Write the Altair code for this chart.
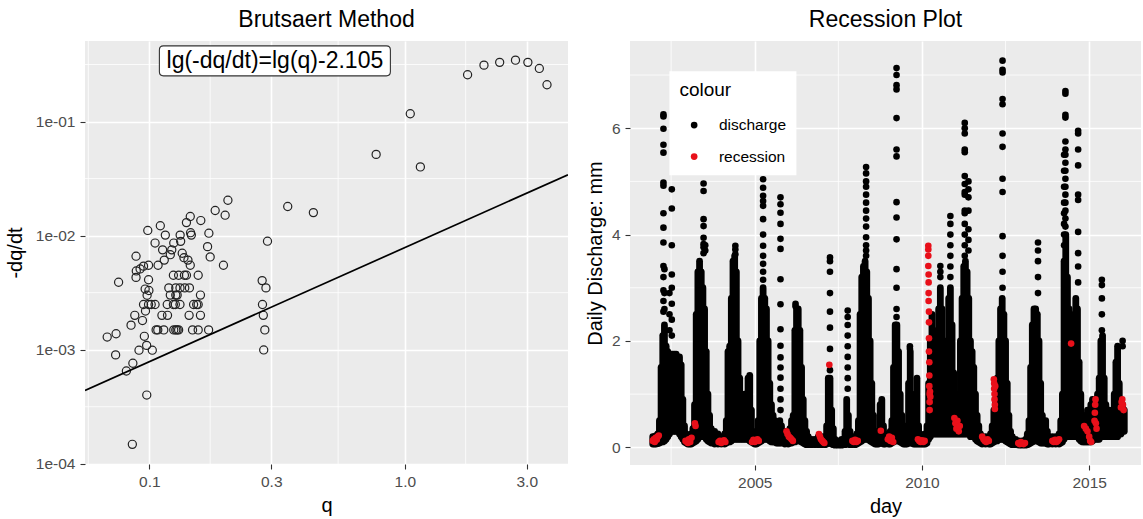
import altair as alt
import pandas as pd

FONT = "Liberation Sans"

# ---------------- Left panel: Brutsaert method ----------------
brut_q = [1.76, 2.04, 2.35, 2.71, 3.03, 3.36, 3.60, 1.05, 0.772, 1.15,
          0.348, 0.4385, 0.290,
          0.203, 0.181, 0.198, 0.171, 0.169, 0.173, 0.195,
          0.159, 0.1446, 0.1397, 0.145, 0.146, 0.132, 0.1326, 0.1246, 0.1155, 0.1104,
          0.0986, 0.1053, 0.1127, 0.1224, 0.1208, 0.1345, 0.1366, 0.1144, 0.1082, 0.1416,
          0.1446, 0.0993, 0.0949, 0.0920, 0.0889, 0.0887, 0.0887, 0.0758, 0.0993, 0.0963,
          0.0996, 0.098,
          0.1242, 0.1302, 0.1372, 0.1397, 0.1553,
          0.1192, 0.1269, 0.1318, 0.1376, 0.1435,
          0.1208, 0.1269, 0.1285, 0.1585,
          0.0949, 0.0993, 0.1017, 0.1053, 0.1175, 0.1242, 0.1264, 0.1318, 0.1490, 0.1532, 0.1553,
          0.0877, 0.1120, 0.1178, 0.1431, 0.1585,
          0.1063, 0.1079, 0.1139, 0.1246, 0.1269, 0.1285, 0.1302, 0.1476, 0.1553, 0.1706,
          0.0966, 0.0848, 0.0940, 0.0956, 0.0911, 0.0976, 0.1027, 0.0684, 0.0741, 0.0738,
          0.0862, 0.0813, 0.0977, 0.0858,
          0.2764, 0.286, 0.2772, 0.2793, 0.2831, 0.2803]
brut_dqdt = [0.257, 0.312, 0.330, 0.345, 0.330, 0.292, 0.210, 0.117, 0.0515, 0.040,
             0.0180, 0.0159, 0.00893,
             0.0204, 0.0166, 0.0151, 0.0105, 0.0080, 0.0065, 0.0055,
             0.01355, 0.0147, 0.0130, 0.0106, 0.0101, 0.0101, 0.0089, 0.0086, 0.0101, 0.0122,
             0.0111, 0.0086, 0.0075, 0.0075, 0.0068, 0.0070, 0.0064, 0.0061, 0.0055, 0.0061,
             0.0055, 0.0055, 0.0054, 0.0051, 0.0049, 0.0043, 0.0066, 0.0039, 0.0041, 0.0034,
             0.0033, 0.0030,
             0.00449, 0.00449, 0.00449, 0.00449, 0.00449,
             0.00348, 0.00348, 0.00348, 0.00348, 0.00348,
             0.00301, 0.00301, 0.00301, 0.00301,
             0.00249, 0.00249, 0.00249, 0.00249, 0.00249, 0.00249, 0.00249, 0.00249, 0.00249, 0.00249, 0.00249,
             0.0020, 0.0020, 0.0020, 0.0020, 0.0020,
             0.00149, 0.00149, 0.00149, 0.00149, 0.00149, 0.00149, 0.00149, 0.00149, 0.00149, 0.00149,
             0.00218, 0.00164, 0.0018, 0.00131, 0.00099, 0.00109, 0.00099, 0.00129, 0.00138, 0.0009,
             0.00076, 0.00065, 0.0004, 0.000148,
             0.00403, 0.00348, 0.00249, 0.0020, 0.00149, 0.000995]

fit_intercept = -2.105           # lg(-dq/dt) = lg(q) - 2.105
fit_q = [0.056, 4.35]
label_q = [0.31]
label_r = [0.34]
label_text = "lg(-dq/dt)=lg(q)-2.105"

q_domain = [0.0560, 4.35]
r_domain = [0.0000995, 0.508]
q_ticks = [0.1, 0.3, 1.0, 3.0]
q_minor = [0.0577, 0.173, 0.548, 1.73]
r_ticks = [0.0001, 0.001, 0.01, 0.1]
r_minor = [0.000316, 0.00316, 0.0316, 0.316]

# ---------------- Right panel: recession plot ----------------
# dense daily-point mass: (decimal year, lowest value, top of the solid mass)
mass = [
    (2001.95, .06, .20), (2002.00, .06, .20), (2002.05, .06, .22), (2002.10, .07, .25),
    (2002.15, .08, .50), (2002.20, .10, 1.5), (2002.25, .10, 2.1), (2002.30, .12, 2.3),
    (2002.35, .15, 1.9), (2002.40, .20, 1.8), (2002.45, .25, 1.7), (2002.50, .30, 1.75),
    (2002.55, .30, 1.75), (2002.60, .30, 1.75), (2002.65, .30, 1.75), (2002.70, .30, 1.70),
    (2002.75, .25, 1.70), (2002.80, .20, 1.55), (2002.85, .15, .90), (2002.90, .10, .40),
    (2002.95, .08, .25), (2003.00, .06, .20), (2003.05, .06, .20), (2003.10, .06, .25),
    (2003.15, .08, .35), (2003.20, .10, .80), (2003.25, .12, 2.5), (2003.30, .15, 3.3),
    (2003.35, .20, 3.5), (2003.40, .20, 3.3), (2003.45, .20, 3.0), (2003.50, .20, 2.6),
    (2003.55, .15, 1.8), (2003.60, .12, 1.0), (2003.65, .10, .60), (2003.70, .08, .35),
    (2003.80, .06, .30), (2003.90, .06, .25), (2004.00, .06, .20), (2004.10, .06, .25),
    (2004.15, .08, .50), (2004.20, .10, 1.8), (2004.25, .10, 1.9), (2004.30, .12, 2.8),
    (2004.35, .15, 3.5), (2004.40, .15, 3.6), (2004.45, .15, 3.3), (2004.50, .15, 2.0),
    (2004.55, .15, 1.3), (2004.60, .15, .90), (2004.65, .15, .90), (2004.70, .15, 1.0),
    (2004.75, .15, .80), (2004.80, .15, 1.3), (2004.85, .12, 1.35), (2004.90, .10, .70),
    (2004.95, .08, .30), (2005.00, .06, .25), (2005.05, .06, .25), (2005.10, .08, .50),
    (2005.15, .10, 2.0), (2005.20, .12, 2.8), (2005.25, .15, 3.0), (2005.30, .15, 2.8),
    (2005.35, .15, 2.6), (2005.40, .15, 2.0), (2005.45, .12, 1.2), (2005.50, .10, .80),
    (2005.55, .10, .60), (2005.60, .10, .50), (2005.65, .08, .45), (2005.70, .08, .40),
    (2005.75, .08, .50), (2005.80, .08, .40), (2005.90, .06, .30), (2006.00, .06, .30),
    (2006.05, .08, .35), (2006.10, .08, .50), (2006.15, .10, .60), (2006.20, .10, 2.2),
    (2006.25, .12, 2.6), (2006.30, .12, 2.6), (2006.35, .12, 2.2), (2006.40, .10, 1.5),
    (2006.45, .08, .90), (2006.50, .06, .50), (2006.55, .05, .30), (2006.60, .05, .20),
    (2006.70, .05, .15), (2006.80, .05, .15), (2006.90, .05, .20), (2007.00, .05, .20),
    (2007.10, .05, .20), (2007.15, .06, .40), (2007.20, .08, 1.3), (2007.25, .08, 1.3),
    (2007.30, .06, .70), (2007.35, .05, .35), (2007.40, .04, .15), (2007.50, .04, .12),
    (2007.60, .04, .15), (2007.70, .05, .30), (2007.75, .06, .90), (2007.80, .06, .60),
    (2007.85, .05, .30), (2007.90, .05, .20), (2008.00, .05, .20), (2008.05, .06, .25),
    (2008.10, .08, .50), (2008.15, .10, 2.5), (2008.20, .12, 3.2), (2008.25, .15, 3.4),
    (2008.30, .15, 3.5), (2008.35, .15, 3.3), (2008.40, .15, 2.8), (2008.45, .12, 2.0),
    (2008.50, .10, 1.2), (2008.55, .08, .60), (2008.60, .06, .30), (2008.65, .06, .20),
    (2008.70, .06, .30), (2008.75, .08, .80), (2008.80, .08, .90), (2008.85, .06, .40),
    (2008.90, .06, .25), (2009.00, .06, .25), (2009.05, .06, .30), (2009.10, .08, .50),
    (2009.15, .10, 1.5), (2009.20, .12, 2.3), (2009.25, .12, 2.3), (2009.30, .12, 1.8),
    (2009.35, .10, 1.0), (2009.40, .08, .60), (2009.45, .06, .30), (2009.50, .06, .25),
    (2009.55, .06, .40), (2009.60, .08, 1.2), (2009.65, .08, 1.8), (2009.70, .08, 1.0),
    (2009.75, .06, .50), (2009.80, .06, .60), (2009.85, .06, 1.3), (2009.90, .06, .40),
    (2009.95, .06, .25), (2010.00, .06, .20), (2010.05, .06, .20), (2010.10, .06, .25),
    (2010.15, .08, .40), (2010.20, .15, 1.2), (2010.25, .20, 2.0), (2010.30, .25, 2.5),
    (2010.35, .25, 2.2), (2010.40, .25, 1.9), (2010.45, .25, 2.0), (2010.50, .25, 2.6),
    (2010.55, .25, 3.0), (2010.60, .25, 2.6), (2010.65, .25, 1.8), (2010.70, .25, 1.5),
    (2010.75, .25, 2.0), (2010.80, .25, 2.8), (2010.85, .25, 3.0), (2010.90, .25, 2.3),
    (2010.95, .25, 1.4), (2011.00, .25, .70), (2011.05, .25, .80), (2011.10, .25, 1.0),
    (2011.15, .25, 2.0), (2011.20, .25, 2.8), (2011.25, .25, 3.4), (2011.30, .25, 3.5),
    (2011.35, .25, 3.3), (2011.40, .25, 2.8), (2011.45, .20, 2.0), (2011.50, .20, 1.8),
    (2011.55, .20, 1.5), (2011.60, .15, 1.0), (2011.65, .12, .60), (2011.70, .10, .40),
    (2011.75, .08, .25), (2011.80, .06, .20), (2011.90, .06, .20), (2012.00, .06, .20),
    (2012.05, .06, .25), (2012.10, .08, .40), (2012.15, .10, .70), (2012.20, .12, .90),
    (2012.25, .12, 1.3), (2012.30, .15, 2.0), (2012.35, .15, 2.6), (2012.40, .15, 2.8),
    (2012.45, .15, 2.5), (2012.50, .12, 2.0), (2012.55, .10, 1.2), (2012.60, .08, .60),
    (2012.65, .06, .30), (2012.70, .05, .20), (2012.80, .05, .15), (2012.90, .04, .12),
    (2013.00, .04, .12), (2013.10, .04, .15), (2013.15, .05, .25), (2013.20, .06, .50),
    (2013.25, .08, 1.5), (2013.30, .10, 2.3), (2013.35, .12, 2.6), (2013.40, .12, 2.6),
    (2013.45, .12, 2.5), (2013.50, .10, 2.0), (2013.55, .08, 1.2), (2013.60, .08, .60),
    (2013.65, .08, .40), (2013.70, .08, .50), (2013.75, .06, .30), (2013.80, .06, .20),
    (2013.90, .06, .20), (2014.00, .06, .20), (2014.10, .06, .25), (2014.15, .08, .50),
    (2014.20, .10, 1.0), (2014.25, .15, 3.5), (2014.30, .20, 4.0), (2014.35, .20, 3.2),
    (2014.40, .20, 2.6), (2014.45, .20, 2.0), (2014.50, .20, 1.8), (2014.55, .20, 2.5),
    (2014.60, .20, 2.8), (2014.65, .20, 2.6), (2014.70, .15, 1.6), (2014.75, .12, 1.0),
    (2014.80, .10, .60), (2014.85, .10, .50), (2014.90, .10, .60), (2014.95, .10, .70),
    (2015.00, .10, .70), (2015.05, .10, .80), (2015.10, .12, .90), (2015.15, .15, .80),
    (2015.20, .15, .90), (2015.25, .15, 1.0), (2015.30, .15, 1.3), (2015.35, .20, 2.0),
    (2015.40, .20, 2.1), (2015.45, .20, 1.3), (2015.50, .20, .80), (2015.55, .20, .60),
    (2015.60, .20, .70), (2015.65, .20, .60), (2015.70, .20, .70), (2015.75, .20, 1.0),
    (2015.80, .20, 1.6), (2015.85, .20, 1.9), (2015.90, .25, 1.2), (2015.95, .25, .90),
    (2016.00, .30, .80), (2016.05, .30, .70),
]

# individual high-flow days standing above the solid mass: (decimal year, values)
discharge_peaks = [
    (2002.27, [6.26, 6.22, 5.99, 5.69, 5.54, 4.98, 4.92, 4.40, 4.13, 3.85, 3.41, 3.2, 2.95, 2.75, 2.55]),
    (2002.30, [3.35, 2.9, 2.6]),
    (2002.45, [2.9, 2.5, 2.2]),
    (2002.52, [4.85, 4.49, 3.80, 3.25, 3.0, 2.7, 2.4, 2.1]),
    (2003.47, [4.96, 4.82, 4.29, 4.16, 3.94, 3.82, 3.76, 3.65]),
    (2003.52, [3.8, 3.7]),
    (2004.42, [3.79, 3.72, 3.63]),
    (2005.25, [5.04, 4.88, 4.73, 4.63, 4.54, 4.29, 4.0, 3.79, 3.6, 3.45, 3.3, 3.15]),
    (2005.77, [4.70, 4.57, 4.41, 4.2, 3.92, 3.73, 3.16, 2.69, 2.22, 1.91, 1.69, 1.5, 1.31, 1.1, 0.9, 0.7]),
    (2006.22, [2.7, 2.65]),
    (2007.25, [3.57, 3.5, 3.3, 2.9, 2.55, 2.25, 1.85, 1.45]),
    (2007.78, [2.57, 2.45, 2.3, 2.1, 1.9, 1.7, 1.5, 1.3, 1.1]),
    (2008.33, [5.27, 5.15, 5.0, 4.9, 4.75, 4.6, 4.45, 4.3, 4.15, 3.95, 3.8, 3.7, 3.6]),
    (2009.24, [7.13, 7.0, 6.81, 6.73, 6.19, 5.6, 5.47, 4.61, 4.32, 3.91, 3.35, 3.0, 2.6, 2.45]),
    (2009.64, [1.9, 1.85]),
    (2010.55, [3.41, 3.3, 3.2]),
    (2010.85, [4.35, 4.2, 4.0, 3.8, 3.6, 3.4, 3.2]),
    (2011.28, [6.1, 6.0, 5.9, 5.6, 5.55, 5.1, 4.95, 4.8, 4.75, 4.45, 4.4, 4.2, 4.0, 3.8, 3.6]),
    (2011.39, [5.0, 4.85, 4.7, 4.45, 4.1, 3.9, 3.7]),
    (2012.41, [7.27, 7.1, 7.05, 6.55, 6.45, 5.9, 5.65, 5.05, 4.8, 3.97, 3.6, 3.3, 3.0]),
    (2013.47, [3.85, 3.7, 3.5, 3.2, 2.9]),
    (2014.25, [5.5, 5.2, 4.9, 4.6, 4.4, 4.2, 4.0, 3.8]),
    (2014.29, [6.7, 6.65, 6.25, 6.2, 5.75, 5.6, 5.5, 5.35, 5.2, 5.05, 4.9, 4.75, 4.6, 4.45, 4.3, 4.15]),
    (2014.67, [5.95, 5.9, 5.6, 5.3, 4.75, 4.65, 4.05, 3.65, 3.4, 3.1]),
    (2015.38, [3.15, 3.05, 2.8, 2.5, 2.2]),
    (2016.00, [2.0, 1.9]),
]

# recession days (red): (decimal year, value)
recession = [
    (2001.95, .12), (2001.98, .15), (2002.01, .10), (2002.04, .18), (2002.07, .14), (2002.10, .20), (2002.13, .22),
    (2002.93, .12), (2002.97, .10), (2003.00, .08), (2003.03, .15), (2003.07, .10), (2003.11, .18), (2003.21, .45), (2003.23, .40),
    (2003.92, .10), (2003.96, .12), (2004.00, .08), (2004.04, .10), (2004.08, .13), (2004.12, .10),
    (2004.92, .10), (2004.96, .14), (2005.00, .10), (2005.04, .12), (2005.08, .15), (2005.12, .12),
    (2005.95, .30), (2005.98, .25), (2006.02, .20), (2006.06, .18), (2006.10, .15), (2006.14, .12),
    (2006.92, .25), (2006.95, .20), (2006.98, .15), (2007.02, .12), (2007.05, .10), (2007.08, .08), (2007.23, 1.55),
    (2007.92, .12), (2007.96, .10), (2008.00, .14), (2008.04, .10), (2008.08, .12),
    (2008.77, .31),
    (2008.98, .15), (2009.02, .20), (2009.06, .12), (2009.10, .18), (2009.14, .10),
    (2009.88, .15), (2009.92, .12), (2009.96, .10), (2010.00, .13), (2010.04, .10), (2010.08, .12),
    (2010.19, 3.79), (2010.19, 3.72), (2010.19, 3.60), (2010.19, 3.41), (2010.20, 3.25), (2010.20, 3.10),
    (2010.20, 2.90), (2010.20, 2.75), (2010.21, 2.55), (2010.21, 2.35), (2010.21, 2.05), (2010.21, 1.80),
    (2010.22, 1.60), (2010.22, 1.35), (2010.22, 1.15), (2010.23, 1.00), (2010.23, .85), (2010.23, .70),
    (2010.24, 1.05), (2010.25, .95),
    (2010.97, .55), (2011.00, .45), (2011.03, .35), (2011.06, .50), (2011.10, .30), (2011.13, .40),
    (2011.80, .20), (2011.84, .15), (2011.88, .12), (2011.92, .10), (2011.96, .15), (2012.00, .12),
    (2012.15, 1.28), (2012.16, 1.20), (2012.16, 1.10), (2012.17, 1.00), (2012.17, .90), (2012.18, .80),
    (2012.18, .72), (2012.19, 1.15),
    (2012.88, .08), (2012.92, .06), (2012.96, .10), (2013.00, .07), (2013.04, .06), (2013.08, .08),
    (2013.90, .12), (2013.94, .10), (2013.98, .14), (2014.02, .10), (2014.06, .12), (2014.10, .15),
    (2014.46, 1.95),
    (2014.85, .40), (2014.90, .35), (2014.95, .30), (2015.00, .20), (2015.03, .12), (2015.06, .10),
    (2015.16, .50), (2015.17, .65), (2015.18, .80), (2015.19, .90), (2015.20, .45), (2015.22, .35),
    (2015.95, .75), (2015.97, .85), (2015.99, .90), (2016.01, .80), (2016.03, .70),
]

year_domain = [2001.27, 2016.55]
value_domain = [-0.333, 7.64]
year_ticks = [2005, 2010, 2015]
year_minor = [2002.5, 2007.5, 2012.5]
value_ticks = [0, 2, 4, 6]
value_minor = [1, 3, 5, 7]
series_names = ["discharge", "recession"]
series_colors = ["#000000", "#E8101A"]

# ---------------- build tables ----------------
brut_df = pd.DataFrame({"q": brut_q, "r": brut_dqdt})
fit_df = pd.DataFrame({"q": fit_q, "r": [v * 10 ** fit_intercept for v in fit_q]})
label_df = pd.DataFrame({"q": label_q, "r": label_r, "t": [label_text]})
qminor_df = pd.DataFrame({"q": q_minor})
rminor_df = pd.DataFrame({"r": r_minor})

mass_df = pd.DataFrame(mass, columns=["year", "low", "top"])
rows = []
for yr, vals in discharge_peaks:
    for v in vals:
        rows.append((yr, v, "discharge"))
for yr, v in recession:
    rows.append((yr, v, "recession"))
pts_df = pd.DataFrame(rows, columns=["year", "value", "colour"])
yminor_df = pd.DataFrame({"year": year_minor})
vminor_df = pd.DataFrame({"value": value_minor})

# ---------------- left chart ----------------
r_label_expr = ("datum.value < 0.0005 ? '1e-04' : datum.value < 0.005 ? '1e-03' : "
                "datum.value < 0.05 ? '1e-02' : '1e-01'")
xq = alt.X("q:Q", scale=alt.Scale(type="log", domain=q_domain, nice=False),
           axis=alt.Axis(values=q_ticks, format=".1f", title="q", titlePadding=6))
yr_ = alt.Y("r:Q", scale=alt.Scale(type="log", domain=r_domain, nice=False),
            axis=alt.Axis(values=r_ticks, labelExpr=r_label_expr, title="-dq/dt", titlePadding=10))

l_minor_v = alt.Chart(qminor_df).mark_rule(color="white", strokeWidth=0.8).encode(x=xq)
l_minor_h = alt.Chart(rminor_df).mark_rule(color="white", strokeWidth=0.8).encode(y=yr_)
l_pts = alt.Chart(brut_df).mark_point(shape="circle", filled=False, size=66, color="#222222",
                                      strokeWidth=1.2, opacity=1).encode(x=xq, y=yr_)
l_line = alt.Chart(fit_df).mark_line(color="black", strokeWidth=1.7, clip=True).encode(x=xq, y=yr_)
box_path = ("M -0.965 -0.13 L 0.965 -0.13 Q 1 -0.13 1 -0.095 L 1 0.095 Q 1 0.13 0.965 0.13 "
            "L -0.965 0.13 Q -1 0.13 -1 0.095 L -1 -0.095 Q -1 -0.13 -0.965 -0.13 Z")
l_box = alt.Chart(label_df).mark_point(shape=box_path, size=231 * 231, filled=True, fill="white",
                                       stroke="#333333", strokeWidth=1.1, opacity=1).encode(x=xq, y=yr_)
l_text = alt.Chart(label_df).mark_text(font=FONT, fontSize=23, color="black", align="center",
                                       baseline="middle").encode(x=xq, y=yr_, text="t:N")

left = alt.layer(l_minor_v, l_minor_h, l_pts, l_line, l_box, l_text).properties(
    width=483, height=423,
    title=alt.TitleParams("Brutsaert Method", frame="group", anchor="middle"))

# ---------------- right chart ----------------
xy = alt.X("year:Q", scale=alt.Scale(domain=year_domain, nice=False, zero=False),
           axis=alt.Axis(values=year_ticks, format="d", title="day", titlePadding=6))
yv_axis = alt.Axis(values=value_ticks, format="d", title="Daily Discharge: mm", titlePadding=6)
yv_scale = alt.Scale(domain=value_domain, nice=False, zero=False)
yv = alt.Y("value:Q", scale=yv_scale, axis=yv_axis)

r_minor_v = alt.Chart(yminor_df).mark_rule(color="white", strokeWidth=0.8).encode(x=xy)
r_minor_h = alt.Chart(vminor_df).mark_rule(color="white", strokeWidth=0.8).encode(y=yv)
r_mass = alt.Chart(mass_df).mark_rule(color="black", strokeWidth=6.8, strokeCap="round").encode(
    x=xy, y=alt.Y("low:Q", scale=yv_scale, axis=yv_axis), y2="top:Q")
r_pts = alt.Chart(pts_df).mark_circle(size=44, opacity=1).encode(
    x=xy, y=yv,
    color=alt.Color("colour:N",
                    scale=alt.Scale(domain=series_names, range=series_colors),
                    legend=alt.Legend(orient="none", legendX=39.4, legendY=30.3, title="colour",
                                      fillColor="white", padding=10,
                                      titleFont=FONT, titleFontSize=19, titleFontWeight="normal",
                                      titleColor="black", titlePadding=17,
                                      labelFont=FONT, labelFontSize=15.5, labelColor="black",
                                      symbolType="circle", symbolSize=45, symbolStrokeWidth=0,
                                      symbolOffset=7, labelOffset=17, rowPadding=14.5)))

right = alt.layer(r_minor_v, r_minor_h, r_mass, r_pts).properties(
    width=511, height=424,
    title=alt.TitleParams("Recession Plot", frame="group", anchor="middle"))

chart = alt.hconcat(left, right, spacing=62, bounds="flush").resolve_scale(
    color="independent"
).properties(
    padding={"left": 5, "top": 8, "right": 0, "bottom": 0}
).configure_view(fill="#EBEBEB", stroke=None).configure_axis(
    labelFont=FONT, titleFont=FONT, labelFontSize=15.5, titleFontSize=20,
    labelColor="#4D4D4D", titleColor="black", titleFontWeight="normal",
    tickColor="#333333", tickSize=5, tickWidth=1.1, domain=False,
    gridColor="white", gridWidth=1.6, labelPadding=5
).configure_title(font=FONT, fontSize=23, fontWeight="normal", color="black", offset=9)

chart.save("out.html", embed_options={"renderer": "svg", "actions": False})
